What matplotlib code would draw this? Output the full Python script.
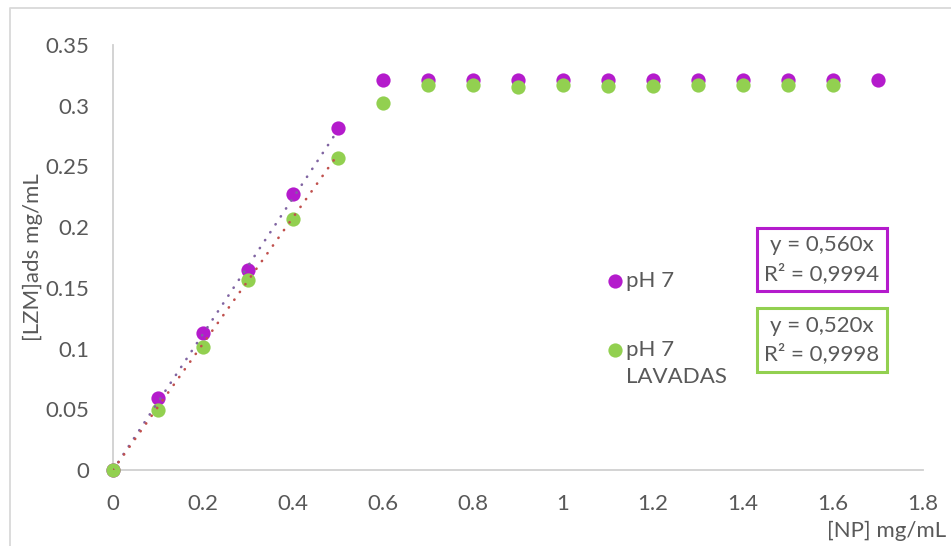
import matplotlib
matplotlib.use("Agg")
import matplotlib.pyplot as plt
from matplotlib.lines import Line2D
from matplotlib.transforms import IdentityTransform
from matplotlib.ticker import FuncFormatter
import numpy as np

plt.rcParams['font.family'] = ['Lato', 'DejaVu Sans']

# Adsorbed lysozyme vs nanoparticle concentration
np_conc_ph7 = [0, 0.1, 0.2, 0.3, 0.4, 0.5, 0.6, 0.7, 0.8, 0.9, 1.0, 1.1, 1.2, 1.3, 1.4, 1.5, 1.6, 1.7]
lzm_ph7 = [0, 0.0589, 0.1125, 0.1648, 0.227, 0.282, 0.321, 0.321, 0.321, 0.321,
           0.321, 0.321, 0.321, 0.321, 0.321, 0.321, 0.321, 0.321]

np_conc_lav = [0, 0.1, 0.2, 0.3, 0.4, 0.5, 0.6, 0.7, 0.8, 0.9, 1.0, 1.1, 1.2, 1.3, 1.4, 1.5, 1.6]
lzm_lav = [0, 0.0493, 0.1015, 0.1566, 0.207, 0.2573, 0.3025, 0.3171, 0.3174, 0.3156,
           0.3167, 0.316, 0.3159, 0.3171, 0.3171, 0.317, 0.3167]

# Linear fits through the origin over the initial linear region
slope_ph7, r2_ph7 = 0.560, 0.9994
slope_lav, r2_lav = 0.520, 0.9998
fit_range = [0, 0.5]

series_labels = ["pH 7", "pH 7\nLAVADAS"]
x_ticks = [0, 0.2, 0.4, 0.6, 0.8, 1.0, 1.2, 1.4, 1.6, 1.8]
y_ticks = [0, 0.05, 0.1, 0.15, 0.2, 0.25, 0.3, 0.35]

PURPLE = "#B41BCC"
GREEN = "#92D050"
TREND_PURPLE = "#8064A2"
TREND_RED = "#C0504D"
TEXT = "#595959"
AXIS = "#D0D0D0"
FS = 16

W, H = 951, 546
fig = plt.figure(figsize=(W / 100, H / 100), dpi=100)
ax = fig.add_axes([113 / W, 1 - 470 / H, (923 - 113) / W, (470 - 45) / H])

ax.scatter(np_conc_ph7, lzm_ph7, s=105, color=PURPLE, zorder=3, linewidths=0,
           label=series_labels[0], clip_on=False)
ax.scatter(np_conc_lav, lzm_lav, s=105, color=GREEN, zorder=4, linewidths=0,
           label=series_labels[1], clip_on=False)

fx = np.array(fit_range)
ax.plot(fx, slope_ph7 * fx, color=TREND_PURPLE, lw=1.9, linestyle=(0, (0.1, 3.5)),
        dash_capstyle='round', zorder=5)
ax.plot(fx, slope_lav * fx, color=TREND_RED, lw=1.9, linestyle=(0, (0.1, 3.5)),
        dash_capstyle='round', zorder=5)

ax.set_xlim(0, 1.8)
ax.set_ylim(0, 0.35)
ax.set_xticks(x_ticks)
ax.set_yticks(y_ticks)
fmt = FuncFormatter(lambda v, p: f"{v:g}")
ax.xaxis.set_major_formatter(fmt)
ax.yaxis.set_major_formatter(fmt)
ax.tick_params(axis='both', length=0, labelsize=FS, labelcolor=TEXT)
ax.tick_params(axis='x', pad=17)
ax.tick_params(axis='y', pad=17)

for side in ('top', 'right'):
    ax.spines[side].set_visible(False)
for side in ('left', 'bottom'):
    ax.spines[side].set_color(AXIS)
    ax.spines[side].set_linewidth(1.3)

ax.set_ylabel("[LZM]ads mg/mL", fontsize=FS, color=TEXT)
ax.yaxis.set_label_coords((43 - 113) / 810, 0.5)
ax.set_xlabel("[NP] mg/mL", fontsize=FS, color=TEXT, ha='right', va='center')
ax.xaxis.set_label_coords((946 - 113) / 810, (470 - 531) / 425)

# Legend
leg = ax.legend(loc='upper left', bbox_to_anchor=((604 - 113) / 810, (470 - 271) / 425),
                frameon=False, fontsize=FS, labelcolor=TEXT, handletextpad=0.0,
                handlelength=1.0, labelspacing=2.2, borderpad=0, borderaxespad=0,
                scatterpoints=1)
for t in leg.get_texts():
    t.set_linespacing(1.45)
for entry in leg._legend_handle_box.get_children()[0].get_children():
    entry.align = "top"

# Fit equation boxes
box_style = 'square,pad=0.33'
ax.text(822, H - 259.5, f"y = {slope_ph7:.3f}x\nR² = {r2_ph7:.4f}".replace('.', ','),
        transform=IdentityTransform(), fontsize=FS, color=TEXT, ha='center',
        va='center', linespacing=1.45,
        bbox=dict(boxstyle=box_style, fc='white', ec=PURPLE, lw=2.2))
ax.text(822, H - 340, f"y = {slope_lav:.3f}x\nR² = {r2_lav:.4f}".replace('.', ','),
        transform=IdentityTransform(), fontsize=FS, color=TEXT, ha='center',
        va='center', linespacing=1.45,
        bbox=dict(boxstyle=box_style, fc='white', ec=GREEN, lw=2.2))

# Chart area border
fig.add_artist(Line2D([10 / W, 10 / W, 1.0], [0.0, 1 - 7.5 / H, 1 - 7.5 / H],
                      transform=fig.transFigure, color="#D9D9D9", lw=1.3))

fig.savefig("out.png", dpi=100)
